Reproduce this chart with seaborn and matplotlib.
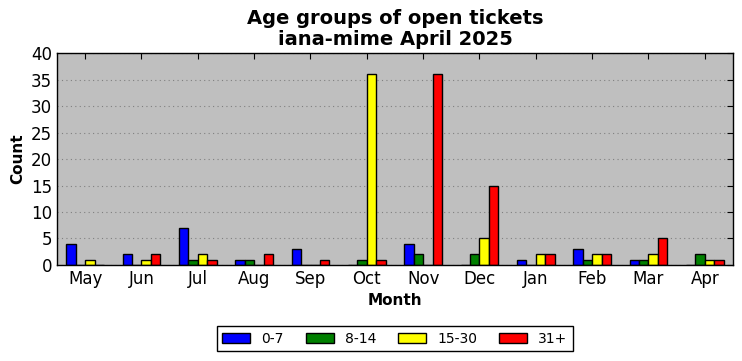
import matplotlib
matplotlib.use("Agg")
import matplotlib.pyplot as plt
import seaborn as sns
import pandas as pd

months = ["May", "Jun", "Jul", "Aug", "Sep", "Oct", "Nov", "Dec", "Jan", "Feb", "Mar", "Apr"]
groups = ["0-7", "8-14", "15-30", "31+"]
g0_7 = [4, 2, 7, 1, 3, 0, 4, 0, 1, 3, 1, 0]
g8_14 = [0, 0, 1, 1, 0, 1, 2, 2, 0, 1, 1, 2]
g15_30 = [1, 1, 2, 0, 0, 36, 0, 5, 2, 2, 2, 1]
g31p = [0, 2, 1, 2, 1, 1, 36, 15, 2, 2, 5, 1]
colors = ["#0000ff", "#008000", "#ffff00", "#ff0000"]

rows = []
for name, vals in zip(groups, [g0_7, g8_14, g15_30, g31p]):
    for m, v in zip(months, vals):
        rows.append({"Month": m, "Group": name, "Count": v})
df = pd.DataFrame(rows)

sns.set_style("white")
plt.rcParams["font.family"] = ["DejaVu Sans"]
plt.rcParams["text.color"] = "black"
plt.rcParams["axes.labelcolor"] = "black"
plt.rcParams["xtick.color"] = "black"
plt.rcParams["ytick.color"] = "black"

fig = plt.figure(figsize=(7.42, 3.61), dpi=100)
ax = fig.add_axes([0.0768, 0.266, 0.911, 0.587])
ax.set_facecolor("#bfbfbf")

sns.barplot(data=df, x="Month", y="Count", hue="Group", order=months, hue_order=groups,
            palette=colors, width=0.667, edgecolor="black", linewidth=1, ax=ax,
            saturation=1, legend=True)

ax.set_xlim(-0.5, 11.5)
ax.set_ylim(0, 40)
ax.set_yticks(range(0, 41, 5))
ax.yaxis.grid(True, linestyle=(0, (1, 3)), color="#808080", linewidth=0.8)
ax.xaxis.grid(False)
ax.set_axisbelow(True)
ax.tick_params(axis="both", direction="in", top=True, right=True, labelsize=12, length=4,
               color="black", labelcolor="black")
for s in ax.spines.values():
    s.set_color("black")
    s.set_linewidth(1)
    s.set_visible(True)

ax.set_xlabel("Month", fontsize=11, fontweight="bold", color="black")
ax.set_ylabel("Count", fontsize=11, fontweight="bold", color="black")
ax.set_title("Age groups of open tickets\niana-mime April 2025", fontsize=14, fontweight="bold",
             linespacing=1.1, color="black")

ax.legend(loc="upper center", bbox_to_anchor=(0.5, -0.255), ncol=4, fontsize=10, frameon=True,
          fancybox=False, edgecolor="black", framealpha=1, handlelength=2.0, columnspacing=1.6,
          borderpad=0.4, title=None)
ax.get_legend().get_frame().set_linewidth(1)

fig.savefig("out.png", dpi=100)
